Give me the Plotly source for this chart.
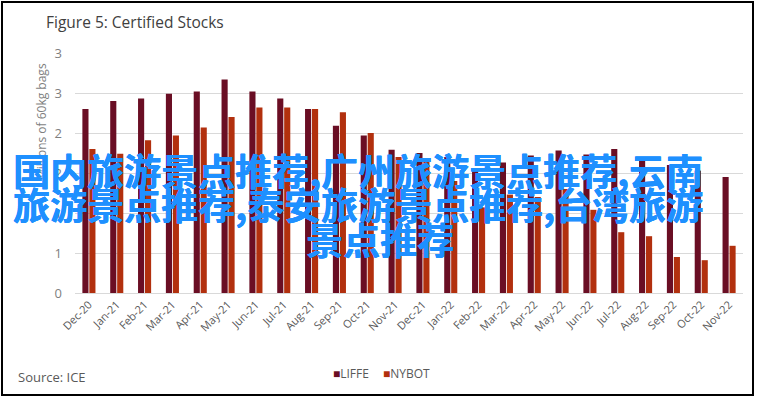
import plotly.graph_objects as go

months = ["Dec-20", "Jan-21", "Feb-21", "Mar-21", "Apr-21", "May-21", "Jun-21", "Jul-21",
          "Aug-21", "Sep-21", "Oct-21", "Nov-21", "Dec-21", "Jan-22", "Feb-22", "Mar-22",
          "Apr-22", "May-22", "Jun-22", "Jul-22", "Aug-22", "Sep-22", "Oct-22", "Nov-22"]
liffe = [2.30, 2.40, 2.43, 2.49, 2.52, 2.67, 2.52, 2.43, 2.30, 2.09, 1.97, 1.79,
         1.75, 1.70, 1.53, 1.63, 1.72, 1.78, 1.73, 1.80, 1.68, 1.60, 1.53, 1.45]
nybot = [1.80, 1.74, 1.91, 1.97, 2.07, 2.20, 2.32, 2.32, 2.30, 2.26, 2.00, 1.70,
         1.65, 1.40, 1.07, 1.23, 1.20, 1.30, 1.04, 0.76, 0.71, 0.45, 0.41, 0.59]
ytick_vals = [0, 0.5, 1.0, 1.5, 2.0, 2.5, 3.0]
ytick_text = ["0", "1", "1", "2", "2", "3", "3"]
series_names = ["LIFFE", "NYBOT"]
series_colors = ["#6a0e24", "#b2300e"]

title_text = "Figure 5: Certified Stocks"
ytitle_text = "Millions of 60kg bags"
source_text = "Source: ICE"
overlay_lines = ["国内旅游景点推荐,广州旅游景点推荐,云南",
                 "旅游景点推荐,泰安旅游景点推荐,台湾旅游",
                 "景点推荐"]

GRAY = "#7f7f7f"
FONT = "Open Sans"

fig = go.Figure()
fig.add_trace(go.Bar(x=months, y=liffe, name=series_names[0],
                     marker=dict(color=series_colors[0], line=dict(width=0))))
fig.add_trace(go.Bar(x=months, y=nybot, name=series_names[1],
                     marker=dict(color=series_colors[1], line=dict(width=0))))

W, H = 760, 399
L, R, T, B = 75, 17, 53, 106
pw, ph = W - L - R, H - T - B

def px2x(px):
    return (px - L) / pw

def py2y(py):
    return (H - B - py) / ph

annotations = [
    dict(text=title_text, xref="paper", yref="paper", x=px2x(44), y=py2y(22),
         xanchor="left", yanchor="middle", showarrow=False,
         font=dict(family=FONT, size=15.5, color="#404040")),
    dict(text=ytitle_text, xref="paper", yref="paper", x=px2x(41), y=py2y(122),
         xanchor="center", yanchor="middle", showarrow=False, textangle=-90,
         font=dict(family=FONT, size=12, color=GRAY)),
    dict(text=source_text, xref="paper", yref="paper", x=px2x(16), y=py2y(377),
         xanchor="left", yanchor="middle", showarrow=False,
         font=dict(family=FONT, size=13, color="#595959")),
]
# legend entries (colored square + label)
leg_x = [331, 381]
for name, col, lx in zip(series_names, series_colors, leg_x):
    annotations.append(dict(
        text=f'<span style="color:{col}">■</span>{name}', xref="paper", yref="paper",
        x=px2x(lx), y=py2y(373), xanchor="left", yanchor="middle", showarrow=False,
        font=dict(family=FONT, size=12, color="#595959")))

OV = "#1e90ff"
ov_font = dict(family="Noto Sans CJK SC", size=37, color=OV, weight="bold",
               shadow=f"0.4px 0 0 {OV}, 0 0.4px 0 {OV}")
annotations.append(dict(text=overlay_lines[0], xref="paper", yref="paper", x=px2x(11), y=py2y(170),
                        xanchor="left", yanchor="middle", showarrow=False, font=ov_font))
annotations.append(dict(text=overlay_lines[1], xref="paper", yref="paper", x=px2x(11), y=py2y(204),
                        xanchor="left", yanchor="middle", showarrow=False, font=ov_font))
annotations.append(dict(text=overlay_lines[2], xref="paper", yref="paper", x=px2x(380), y=py2y(239),
                        xanchor="center", yanchor="middle", showarrow=False, font=ov_font))

fig.update_layout(
    width=W, height=H,
    margin=dict(l=L, r=R, t=T, b=B, autoexpand=False),
    paper_bgcolor="white", plot_bgcolor="white",
    barmode="group", bargap=0.5, bargroupgap=0.12,
    showlegend=False,
    annotations=annotations,
    shapes=[dict(type="rect", xref="paper", yref="paper",
                 x0=px2x(2), x1=px2x(753), y0=py2y(395), y1=py2y(2),
                 line=dict(color="black", width=2), layer="above")],
    xaxis=dict(tickangle=-45, tickfont=dict(family=FONT, size=11, color="#595959"),
               showgrid=False, showline=True, linecolor="#d9d9d9", linewidth=1,
               ticks="", fixedrange=True),
    yaxis=dict(range=[0, 3.0], tickvals=ytick_vals, ticktext=ytick_text,
               tickfont=dict(family=FONT, size=13, color=GRAY),
               showgrid=True, gridcolor="#d9d9d9", gridwidth=1,
               zeroline=False, showline=False, ticks="", ticklabelstandoff=12,
               fixedrange=True),
)

fig.write_html("out.html", config={"displayModeBar": False, "staticPlot": True},
               post_script="document.body.style.margin='0';document.body.style.overflow='hidden';")
